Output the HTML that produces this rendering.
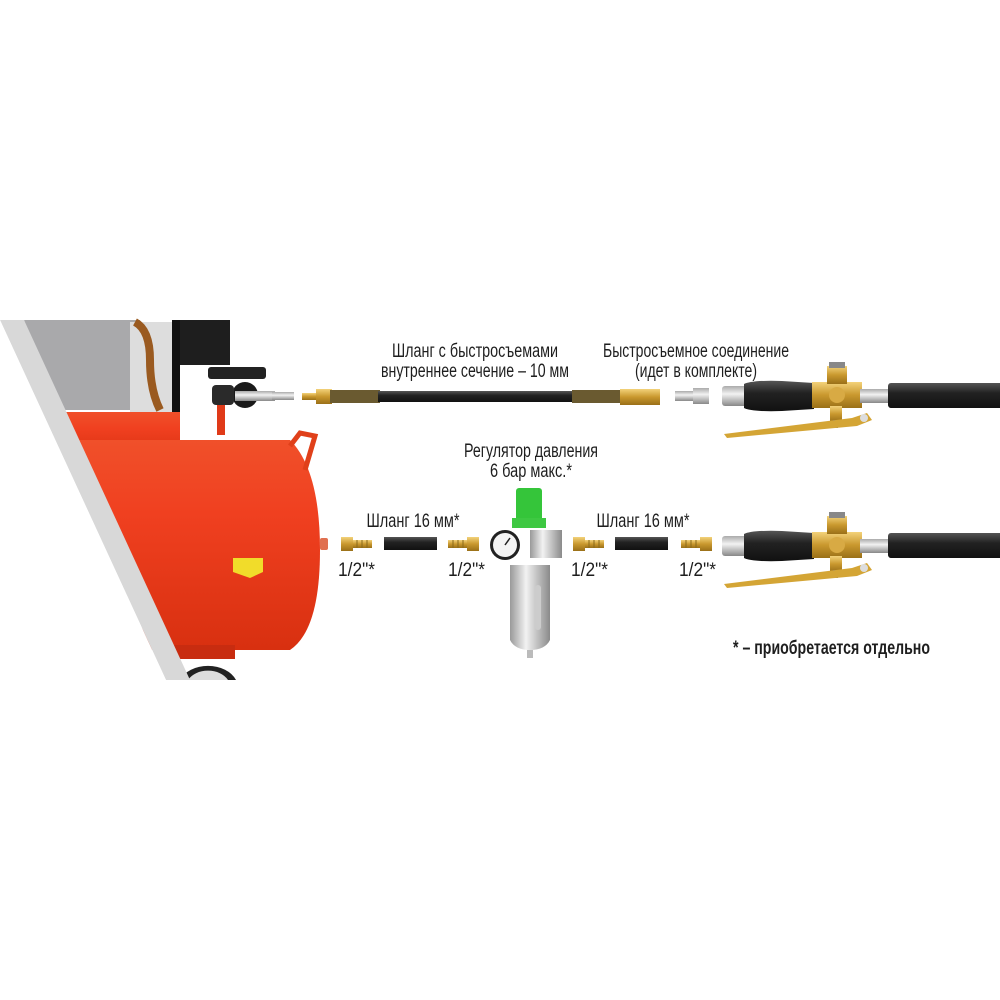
<!DOCTYPE html>
<html><head><meta charset="utf-8"><style>
html,body{margin:0;padding:0;background:#fff;width:1000px;height:1000px;overflow:hidden}
text{font-family:"Liberation Sans",sans-serif;fill:#1e1e1e}
</style></head><body>
<svg width="1000" height="1000" viewBox="0 0 1000 1000" xmlns="http://www.w3.org/2000/svg">
<defs>
<linearGradient id="red" x1="0" y1="0" x2="0" y2="1"><stop offset="0" stop-color="#f0502a"/><stop offset="0.35" stop-color="#f04020"/><stop offset="1" stop-color="#d83010"/></linearGradient>
<linearGradient id="brass" x1="0" y1="0" x2="0" y2="1"><stop offset="0" stop-color="#f3d27a"/><stop offset="0.5" stop-color="#c9982e"/><stop offset="1" stop-color="#9a7018"/></linearGradient>
<linearGradient id="blk" x1="0" y1="0" x2="0" y2="1"><stop offset="0" stop-color="#555"/><stop offset="0.4" stop-color="#222"/><stop offset="1" stop-color="#111"/></linearGradient>
<linearGradient id="chrome" x1="0" y1="0" x2="1" y2="0"><stop offset="0" stop-color="#999"/><stop offset="0.4" stop-color="#f2f2f2"/><stop offset="1" stop-color="#8a8a8a"/></linearGradient>
<linearGradient id="chromeV" x1="0" y1="0" x2="0" y2="1"><stop offset="0" stop-color="#aaa"/><stop offset="0.4" stop-color="#f2f2f2"/><stop offset="1" stop-color="#888"/></linearGradient>
<g id="gun">
  <rect x="0" y="0" width="30" height="20" rx="3" fill="url(#chromeV)"/>
  <path d="M22 -2 Q30 -6 60 -5 L92 -3 L92 23 L60 25 Q30 26 22 22 Z" fill="url(#blk)"/>
  <rect x="90" y="-4" width="50" height="26" fill="url(#brass)"/>
  <rect x="105" y="-20" width="20" height="18" fill="url(#brass)"/>
  <rect x="107" y="-24" width="16" height="6" fill="#888"/>
  <circle cx="115" cy="9" r="8" fill="#d8aa44"/>
  <rect x="108" y="20" width="12" height="16" fill="url(#brass)"/>
  <rect x="111" y="34" width="5" height="8" fill="#777"/>
  <rect x="138" y="3" width="30" height="14" fill="url(#chromeV)"/>
  <rect x="166" y="-3" width="134" height="25" rx="3" fill="url(#blk)"/>
  <path d="M2 48 L130 32 L145 27 L150 34 L135 40 L5 52 Z" fill="#d4a535"/>
  <circle cx="142" cy="32" r="4" fill="#ddd"/>
</g>
<g id="fit">
  <rect x="0" y="-7" width="12" height="14" fill="url(#brass)"/>
  <rect x="12" y="-4" width="19" height="8" fill="url(#brass)"/>
  <line x1="16" y1="-4" x2="16" y2="4" stroke="#8a6a1a"/><line x1="21" y1="-4" x2="21" y2="4" stroke="#8a6a1a"/><line x1="26" y1="-4" x2="26" y2="4" stroke="#8a6a1a"/>
</g>
</defs>

<!-- motor -->
<path d="M24 320 L140 320 Q145 390 135 410 L55 410 Z" fill="#a9a9ab"/>
<rect x="130" y="322" width="45" height="90" fill="#ddd"/>
<path d="M135 322 Q150 330 150 360 Q150 390 160 410" stroke="#9a5a20" stroke-width="8" fill="none"/>
<rect x="178" y="320" width="52" height="45" fill="#1e1e1e"/>
<rect x="172" y="320" width="8" height="110" fill="#111"/>
<rect x="208" y="367" width="58" height="12" rx="3" fill="#222"/>
<circle cx="245" cy="395" r="13" fill="#1a1a1a"/>
<rect x="212" y="385" width="22" height="20" rx="4" fill="#2a2a2a"/>
<rect x="235" y="391" width="40" height="10" fill="url(#chromeV)"/>
<rect x="272" y="392" width="22" height="8" fill="url(#chromeV)"/>
<rect x="217" y="405" width="8" height="30" fill="#e03a18"/>
<polygon points="60,412 180,412 180,460 80,460" fill="url(#red)"/>
<path d="M75 440 L290 440 Q320 470 320 550 Q320 630 290 650 L150 650 Z" fill="url(#red)"/>
<path d="M290 446 L300 433 L315 436 L305 470" stroke="#e0401a" stroke-width="5" fill="none"/>
<rect x="320" y="538" width="8" height="12" rx="2" fill="#e07050"/>
<polygon points="233,558 263,558 263,572 250,578 233,572" fill="#f1dc2a"/>
<rect x="160" y="645" width="75" height="14" fill="#c82c10"/>
<path d="M180 680 A30 22 0 0 1 236 680 Z" fill="#222"/>
<path d="M188 680 A22 16 0 0 1 228 680 Z" fill="#ddd"/>
<polygon points="0,320 24,320 190,680 166,680" fill="#d8d8d8"/>
<polygon points="0,320 0,680 166,680" fill="#fff"/>

<!-- top hose -->
<rect x="302" y="393" width="16" height="7" fill="url(#brass)"/>
<rect x="316" y="389" width="16" height="15" fill="url(#brass)"/>
<rect x="330" y="390" width="50" height="13" fill="#6a5a30"/>
<rect x="378" y="391" width="196" height="11" fill="url(#blk)"/>
<rect x="572" y="390" width="50" height="13" fill="#6a5a30"/>
<rect x="620" y="389" width="40" height="16" fill="url(#brass)"/>
<rect x="675" y="391" width="18" height="10" fill="url(#chromeV)"/>
<rect x="693" y="388" width="16" height="16" fill="url(#chromeV)"/>

<use href="#gun" x="722" y="386"/>
<use href="#gun" x="722" y="536"/>

<!-- bottom row -->
<use href="#fit" x="341" y="544"/>
<rect x="384" y="537" width="53" height="13" fill="url(#blk)"/>
<g transform="translate(479,544) scale(-1,1)"><use href="#fit"/></g>
<use href="#fit" x="573" y="544"/>
<rect x="615" y="537" width="53" height="13" fill="url(#blk)"/>
<g transform="translate(712,544) scale(-1,1)"><use href="#fit"/></g>

<!-- regulator -->
<rect x="516" y="488" width="26" height="34" rx="3" fill="#35c53a"/>
<rect x="512" y="518" width="34" height="10" fill="#3ec842"/>
<rect x="530" y="530" width="32" height="28" fill="url(#chrome)"/>
<circle cx="505" cy="545" r="15" fill="#222"/>
<circle cx="505" cy="545" r="12" fill="#f4f4f4"/>
<line x1="505" y1="545" x2="510" y2="538" stroke="#222" stroke-width="1.5"/>
<path d="M510 565 L550 565 L550 640 Q545 650 530 650 Q515 650 510 640 Z" fill="url(#chrome)"/>
<rect x="535" y="585" width="6" height="45" rx="3" fill="#ccc"/>
<rect x="527" y="650" width="6" height="8" fill="#bbb"/>

<g font-size="19">
<text x="475" y="357" text-anchor="middle" textLength="166" lengthAdjust="spacingAndGlyphs">Шланг с быстросъемами</text>
<text x="475" y="377" text-anchor="middle" textLength="188" lengthAdjust="spacingAndGlyphs">внутреннее сечение – 10 мм</text>
<text x="696" y="357" text-anchor="middle" textLength="186" lengthAdjust="spacingAndGlyphs">Быстросъемное соединение</text>
<text x="696" y="377" text-anchor="middle" textLength="122" lengthAdjust="spacingAndGlyphs">(идет в комплекте)</text>
<text x="531" y="457" text-anchor="middle" textLength="134" lengthAdjust="spacingAndGlyphs">Регулятор давления</text>
<text x="531" y="477" text-anchor="middle" textLength="82" lengthAdjust="spacingAndGlyphs">6 бар макс.*</text>
<text x="413" y="527" text-anchor="middle" textLength="93" lengthAdjust="spacingAndGlyphs">Шланг 16 мм*</text>
<text x="643" y="527" text-anchor="middle" textLength="93" lengthAdjust="spacingAndGlyphs">Шланг 16 мм*</text>
<text x="338" y="576" textLength="37" lengthAdjust="spacingAndGlyphs">1/2"*</text>
<text x="448" y="576" textLength="37" lengthAdjust="spacingAndGlyphs">1/2"*</text>
<text x="571" y="576" textLength="37" lengthAdjust="spacingAndGlyphs">1/2"*</text>
<text x="679" y="576" textLength="37" lengthAdjust="spacingAndGlyphs">1/2"*</text>
<text x="733" y="654" font-weight="bold" textLength="197" lengthAdjust="spacingAndGlyphs">* – приобретается отдельно</text>
</g>
</svg>
</body></html>
